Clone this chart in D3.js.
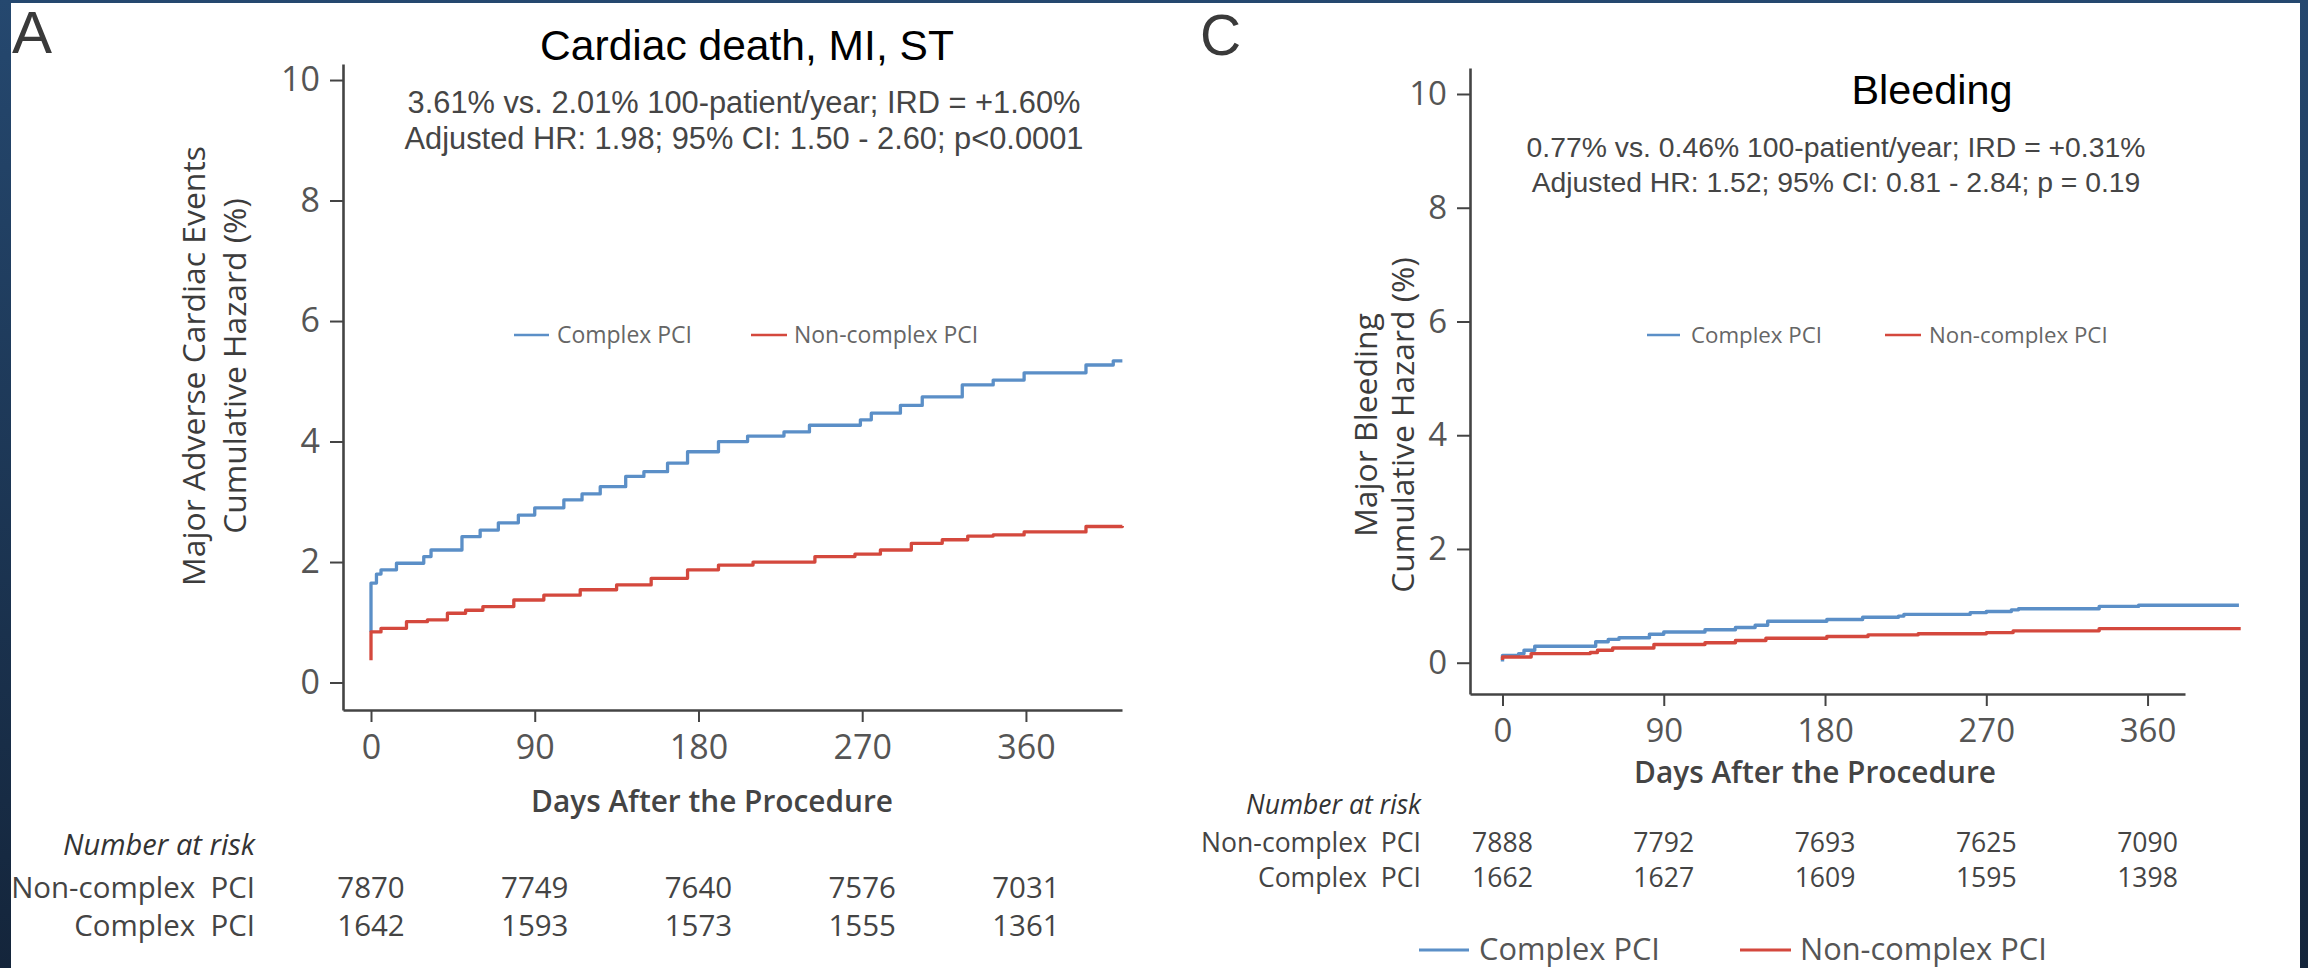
<!DOCTYPE html>
<html>
<head>
<meta charset="utf-8">
<script src="https://cdn.jsdelivr.net/npm/d3@7"></script>
<style>
  html, body { margin: 0; padding: 0; background: #1b3352; overflow: hidden; }
  svg { display: block; }
</style>
</head>
<body>
<svg id="fig" width="2308" height="968"></svg>
<script>
// Cumulative hazard (%) by day after the procedure, as [day, value] steps
const maceComplex = [
  [0, 0.84], [0, 1.65], [3, 1.8], [5.5, 1.87], [14, 1.98], [29, 2.09], [33, 2.2], [50, 2.42],
  [60, 2.53], [70, 2.65], [81, 2.78], [90, 2.9], [106, 3.03], [116, 3.13], [126, 3.25],
  [140, 3.42], [150, 3.5], [163, 3.64], [174, 3.83], [191, 4.0], [207, 4.09], [227, 4.16],
  [241, 4.27], [269, 4.36], [275, 4.47], [291, 4.6], [303, 4.74], [325, 4.94], [342, 5.02],
  [359, 5.14], [393, 5.27], [408, 5.34], [413, 5.34]
];
const maceNonComplex = [
  [0, 0.37], [0, 0.84], [5.5, 0.9], [19.5, 1.01], [31, 1.04], [42, 1.15], [52, 1.2],
  [61.5, 1.26], [78.5, 1.37], [95, 1.45], [115, 1.54], [135, 1.62], [154, 1.73], [174, 1.87],
  [191, 1.95], [210, 2.0], [244, 2.09], [266, 2.13], [280, 2.2], [297, 2.31], [314, 2.37],
  [328, 2.43], [342, 2.45], [359, 2.5], [393, 2.59], [413, 2.6]
];
const bleedComplex = [
  [0, 0.02], [0, 0.13], [9, 0.16], [12, 0.22], [18, 0.29], [52, 0.37], [59, 0.41], [65, 0.44],
  [82, 0.5], [90, 0.54], [113, 0.58], [130, 0.62], [141, 0.66], [148, 0.73], [181, 0.76],
  [201, 0.8], [221, 0.82], [224, 0.85], [261, 0.88], [270, 0.9], [284, 0.93], [288, 0.95],
  [333, 0.99], [355, 1.01], [411, 1.01]
];
const bleedNonComplex = [
  [0, 0.05], [0, 0.1], [16, 0.16], [49, 0.18], [53, 0.22], [61.5, 0.26], [84.5, 0.32],
  [113, 0.35], [130, 0.39], [147, 0.43], [181, 0.46], [204, 0.49], [232, 0.51], [270, 0.53],
  [285, 0.56], [333, 0.6], [412, 0.6]
];

// Number at risk
const riskDays = [0, 90, 180, 270, 360];
const maceRiskNonComplex = [7870, 7749, 7640, 7576, 7031];
const maceRiskComplex = [1642, 1593, 1573, 1555, 1361];
const bleedRiskNonComplex = [7888, 7792, 7693, 7625, 7090];
const bleedRiskComplex = [1662, 1627, 1609, 1595, 1398];

// Axis ticks
const yTickValues = [0, 2, 4, 6, 8, 10];
const xTickValues = [0, 90, 180, 270, 360];

// Series and annotation text
const seriesNames = ["Complex PCI", "Non-complex PCI"];
const seriesColors = ["#5b8fc7", "#d4483d"];
const maceStats = ["3.61% vs. 2.01% 100-patient/year; IRD = +1.60%",
                   "Adjusted HR: 1.98; 95% CI: 1.50 - 2.60; p<0.0001"];
const bleedStats = ["0.77% vs. 0.46% 100-patient/year; IRD = +0.31%",
                    "Adjusted HR: 1.52; 95% CI: 0.81 - 2.84; p = 0.19"];

const svg = d3.select("#fig");
const SANS = "'Open Sans', 'Noto Sans', 'DejaVu Sans', sans-serif";
const ARIAL = "'Liberation Sans', Arial, sans-serif";

// dark frame with a vertical gradient, white sheet on top
const defs = svg.append("defs");
const grad = defs.append("linearGradient").attr("id", "frame")
  .attr("x1", 0).attr("y1", 0).attr("x2", 0).attr("y2", 1);
grad.append("stop").attr("offset", "0%").attr("stop-color", "#25486f");
grad.append("stop").attr("offset", "100%").attr("stop-color", "#14253b");
svg.append("rect").attr("width", 2308).attr("height", 968).attr("fill", "url(#frame)");
svg.append("rect").attr("x", 11).attr("y", 3).attr("width", 2289).attr("height", 965).attr("fill", "#ffffff");

// scale a text's font size so that its rendered width equals w
function fitWidth(sel, w) {
  const len = sel.node().getComputedTextLength();
  const fs = parseFloat(sel.attr("font-size"));
  const nfs = fs * w / len;
  sel.attr("font-size", nfs);
  return nfs;
}

function addText(g, o) {
  const t = g.append("text")
    .attr("x", o.x).attr("y", o.y)
    .attr("font-family", o.family || SANS)
    .attr("font-size", o.size || 20)
    .attr("font-weight", o.weight || 400)
    .attr("font-style", o.italic ? "italic" : "normal")
    .attr("fill", o.fill || "#444")
    .attr("text-anchor", o.anchor || "start")
    .style("white-space", "pre")
    .text(o.text);
  if (o.transform) t.attr("transform", o.transform);
  return t;
}

const panels = [
  {
    letter: "A", letterX: 12, letterY: 53, letterSize: 60,
    xDomain: [-15.39, 412.8], xRange: [343, 1122],
    yDomain: [-0.456, 10.266], yRange: [710, 64],
    title: "Cardiac death, MI, ST", titleX: 747, titleY: 60, titleW: 414,
    stats: maceStats, statsX: 744, statsY: [113, 149], statsW: 673,
    yTitle: ["Major Adverse Cardiac Events", "Cumulative Hazard (%)"],
    yTitleX: [205, 246], yTitleCY: 366, yTitleW: 440,
    legY: 335, legLines: [[514, 549], [751, 787]], legTextX: [557, 794], legTextW: 135,
    xTitleX: 712, xTitleY: 812, xTitleW: 362,
    riskRight: 255, riskY: [855, 898, 936], riskHeadW: 192, riskLabelW: 244,
    curves: [maceComplex, maceNonComplex],
    risk: [maceRiskNonComplex, maceRiskComplex],
    tickFont: 34, lineW: 3.3
  },
  {
    letter: "C", letterX: 1200, letterY: 55, letterSize: 57,
    xDomain: [-18.14, 380.9], xRange: [1470, 2185],
    yDomain: [-0.55, 10.457], yRange: [694, 68],
    title: "Bleeding", titleX: 1932, titleY: 104, titleW: 161,
    stats: bleedStats, statsX: 1836, statsY: [157, 192], statsW: 619,
    yTitle: ["Major Bleeding", "Cumulative Hazard (%)"],
    yTitleX: [1377, 1414], yTitleCY: 425, yTitleW: null,
    legY: 335, legLines: [[1647, 1680], [1885, 1921]], legTextX: [1691, 1929], legTextW: 131,
    xTitleX: 1815, xTitleY: 783, xTitleW: 362,
    riskRight: 1421, riskY: [814, 852, 887], riskHeadW: 175, riskLabelW: 220,
    curves: [bleedComplex, bleedNonComplex],
    risk: [bleedRiskNonComplex, bleedRiskComplex],
    tickFont: 33, lineW: 3.4
  }
];

let yTitleSize = null;

panels.forEach(p => {
  const g = svg.append("g");
  const x = d3.scaleLinear().domain(p.xDomain).range(p.xRange);
  const y = d3.scaleLinear().domain(p.yDomain).range(p.yRange);

  // panel letter
  addText(g, { x: p.letterX, y: p.letterY, text: p.letter, size: p.letterSize, family: ARIAL, fill: "#3a3a3a" });

  // axes
  const yAxis = g.append("g").attr("transform", `translate(${p.xRange[0]},0)`)
    .call(d3.axisLeft(y).tickValues(yTickValues).tickSize(13).tickSizeOuter(0).tickPadding(10));
  const xAxis = g.append("g").attr("transform", `translate(0,${p.yRange[0]})`)
    .call(d3.axisBottom(x).tickValues(xTickValues).tickSize(12).tickSizeOuter(0).tickPadding(13));
  [yAxis, xAxis].forEach(a => {
    a.select(".domain").attr("stroke", "#444").attr("stroke-width", 2.6);
    a.selectAll(".tick line").attr("stroke", "#444").attr("stroke-width", 2);
    a.selectAll(".tick text")
      .attr("font-family", SANS).attr("font-size", p.tickFont)
      .attr("fill", "#555");
  });

  // cumulative hazard curves
  const line = d3.line().x(d => x(d[0])).y(d => y(d[1])).curve(d3.curveStepAfter);
  p.curves.forEach((c, i) => {
    g.append("path").datum(c)
      .attr("d", line)
      .attr("fill", "none")
      .attr("stroke", seriesColors[i])
      .attr("stroke-width", p.lineW)
      .attr("stroke-linejoin", "round");
  });

  // title and statistics
  const tt = addText(g, { x: p.titleX, y: p.titleY, text: p.title, size: 40, family: ARIAL, fill: "#000", anchor: "middle" });
  fitWidth(tt, p.titleW);
  const s1 = addText(g, { x: p.statsX, y: p.statsY[0], text: p.stats[0], size: 26, family: ARIAL, fill: "#454545", anchor: "middle" });
  const sfs = fitWidth(s1, p.statsW);
  addText(g, { x: p.statsX, y: p.statsY[1], text: p.stats[1], size: sfs, family: ARIAL, fill: "#454545", anchor: "middle" });

  // in-plot legend
  seriesNames.forEach((name, i) => {
    g.append("line")
      .attr("x1", p.legLines[i][0]).attr("x2", p.legLines[i][1])
      .attr("y1", p.legY).attr("y2", p.legY)
      .attr("stroke", seriesColors[i]).attr("stroke-width", 2.6);
    const lt = addText(g, { x: p.legTextX[i], y: p.legY + 8, text: name, size: 23, fill: "#666" });
    if (i === 0) p.legSize = fitWidth(lt, p.legTextW);
    else lt.attr("font-size", p.legSize);
  });

  // y-axis title (two rotated lines)
  p.yTitle.forEach((txt, i) => {
    const t = addText(g, {
      x: 0, y: 0, text: txt, size: 33, fill: "#3c3c3c", anchor: "middle",
      transform: `translate(${p.yTitleX[i]},${p.yTitleCY}) rotate(-90)`
    });
    if (p.yTitleW && i === 0) yTitleSize = fitWidth(t, p.yTitleW);
    else if (yTitleSize) t.attr("font-size", yTitleSize);
  });

  // x-axis title
  const xt = addText(g, { x: p.xTitleX, y: p.xTitleY, text: "Days After the Procedure", size: 30, weight: 600, fill: "#444", anchor: "middle" });
  fitWidth(xt, p.xTitleW);

  // number at risk table
  const head = addText(g, { x: p.riskRight, y: p.riskY[0], text: "Number at risk", size: 26, italic: true, fill: "#333", anchor: "end" });
  fitWidth(head, p.riskHeadW);
  const rowNames = ["Non-complex  PCI", "Complex  PCI"];
  const l0 = addText(g, { x: p.riskRight, y: p.riskY[1], text: rowNames[0], size: 28, fill: "#444", anchor: "end" });
  const rfs = fitWidth(l0, p.riskLabelW);
  addText(g, { x: p.riskRight, y: p.riskY[2], text: rowNames[1], size: rfs, fill: "#444", anchor: "end" });
  p.risk.forEach((row, r) => {
    g.selectAll(null).data(row).join("text")
      .attr("x", (d, i) => x(riskDays[i]))
      .attr("y", p.riskY[r + 1])
      .attr("text-anchor", "middle")
      .attr("font-family", SANS).attr("font-size", rfs)
      .attr("fill", "#444")
      .text(d => d);
  });
});

// shared legend along the bottom
const bottomLeg = svg.append("g");
const bLines = [[1419, 1469], [1740, 1791]];
const bText = [1479, 1800];
let bSize = null;
seriesNames.forEach((name, i) => {
  bottomLeg.append("line")
    .attr("x1", bLines[i][0]).attr("x2", bLines[i][1])
    .attr("y1", 950).attr("y2", 950)
    .attr("stroke", seriesColors[i]).attr("stroke-width", 3);
  const t = addText(bottomLeg, { x: bText[i], y: 960, text: name, size: 31, fill: "#555" });
  if (i === 0) bSize = fitWidth(t, 181);
  else t.attr("font-size", bSize);
});
</script>
</body>
</html>
